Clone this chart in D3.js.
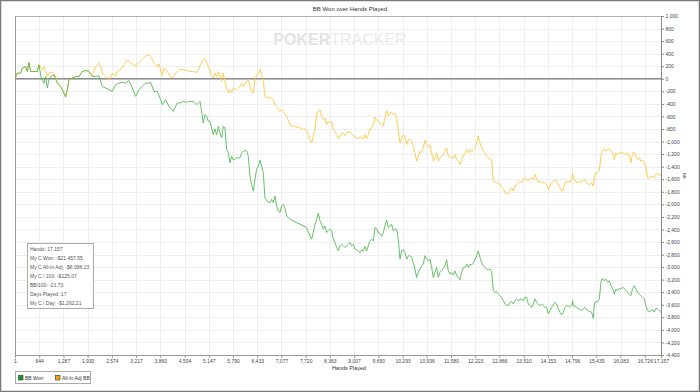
<!DOCTYPE html>
<html><head><meta charset="utf-8">
<script src="https://cdn.jsdelivr.net/npm/d3@7"></script>
<style>body{margin:0;background:#fff}svg{display:block;font-family:"Liberation Sans",Arial,sans-serif}</style>
</head><body><svg id="c" width="700" height="392"></svg>
<script>
const title = "BB Won over Hands Played";
const xLabel = "Hands Played";
const xTicks = [1,644,1287,1930,2574,3217,3860,4504,5147,5790,6433,7077,7720,8363,9007,9650,10293,10936,11580,12223,12866,13510,14153,14796,15439,16083,16726,17157];
const yTicks = [1000,800,600,400,200,0,-200,-400,-600,-800,-1000,-1200,-1400,-1600,-1800,-2000,-2200,-2400,-2600,-2800,-3000,-3200,-3400,-3600,-3800,-4000,-4200,-4400];
const seriesNames = ["BB Won","All-In Adj BB"];
const seriesColors = ["#56b956","#fdc742"];
const infoLines = ["Hands: 17,157","My C Won: -$21,457.55","My C All-In Adj: -$8,088.23","My C / 100: -$125.07","BB/100: -21.73","Days Played: 17","My C / Day: -$1,262.21"];

// [hand, BB]
const bbWon = [[1,0],[62,90],[150,90],[195,169],[283,196],[327,116],[372,259],[416,116],[505,116],[593,116],[637,222],[699,11],[770,-69],[814,37],[859,-148],[903,-16],[947,37],[1036,63],[1124,-69],[1213,-122],[1301,-227],[1345,-291],[1390,-175],[1434,-16],[1522,11],[1611,37],[1700,37],[1788,116],[1877,132],[1965,116],[2054,37],[2142,37],[2231,48],[2319,-122],[2408,-148],[2496,-175],[2585,-201],[2673,-95],[2762,-69],[2850,-58],[2939,-69],[3027,-26],[3116,-148],[3204,-280],[3293,-175],[3381,-122],[3470,-69],[3558,-69],[3603,-58],[3691,-201],[3780,-201],[3868,-333],[3913,-413],[4001,-333],[4090,-439],[4205,-518],[4311,-386],
[4382,-386],[4470,-360],[4559,-376],[4648,-360],[4736,-360],[4825,-413],[4913,-360],[4957,-518],[5002,-704],[5046,-571],[5090,-598],[5135,-677],[5179,-677],[5223,-783],[5267,-889],[5311,-799],[5356,-889],[5400,-757],[5444,-862],[5489,-942],[5533,-757],[5577,-783],[5621,-1127],[5666,-1180],[5710,-1338],[5754,-1233],[5798,-1296],[5887,-1259],[5975,-1259],[6020,-1180],[6064,-1153],[6108,-1143],[6152,-1153],[6197,-1233],[6241,-1550],[6285,-1682],[6330,-1788],[6374,-1603],[6418,-1444],[6462,-1391],[6507,-1296],[6551,-1391],[6595,-1497],[6639,-1894],[6684,-1947],[6772,-1973],[6816,-1920],[6861,-1973],[6905,-1867],[6949,-2026],[6993,-2105],[7038,-2132],[7082,-2026],[7126,-2000],[7171,-2053],[7215,-2185],[7303,-2238],[7392,-2264],[7480,-2291],[7569,-2317],[7657,-2344],[7746,-2370],[7790,-2439],[7834,-2502],[7879,-2555],[7923,-2450],[7967,-2317],[8012,-2238],[8056,-2142],[8100,-2264],[8144,-2317],[8189,-2396],[8233,-2344],[8277,-2450],[8322,-2423],[8366,-2396],[8410,-2423],[8455,-2555],[8499,-2608],[8543,-2687],[8587,-2740],[8632,-2661],[8676,-2634],[8720,-2661],
[8764,-2688],[8853,-2635],[8897,-2608],[8941,-2661],[8985,-2635],[9030,-2714],[9074,-2725],[9118,-2741],[9162,-2767],[9207,-2725],[9251,-2741],[9295,-2672],[9339,-2741],[9384,-2661],[9428,-2582],[9472,-2555],[9517,-2582],[9561,-2370],[9605,-2386],[9649,-2455],[9694,-2466],[9738,-2508],[9782,-2455],[9826,-2344],[9871,-2249],[9915,-2370],[9959,-2344],[10003,-2317],[10048,-2423],[10092,-2397],[10136,-2397],[10180,-2555],[10225,-2873],[10269,-2741],[10313,-2725],[10357,-2767],[10402,-2873],[10446,-2820],[10490,-2820],[10534,-2847],[10579,-2926],[10623,-3032],[10667,-3164],[10711,-3085],[10756,-3032],[10800,-2979],[10844,-2952],[10888,-2820],[10933,-2873],[10977,-2899],[11021,-2873],[11066,-3005],[11110,-3164],[11154,-3085],[11198,-3005],[11243,-3164],[11287,-3085],[11331,-3058],[11375,-3021],[11420,-2979],[11464,-2884],[11508,-3058],[11553,-3111],[11597,-3085],[11641,-3127],[11685,-3058],[11730,-3138],[11774,-3164],[11818,-3201],[11862,-3085],[11907,-3005],[11951,-3005],[11995,-2952],[12040,-3005],[12084,-2952],[12128,-2968],[12172,-2937],[12217,-2873],[12261,-2820],[12305,-2741],[12349,-2847],[12394,-2926],[12438,-2979],[12482,-3005],[12527,-3032],[12571,-3042],[12615,-3032],[12659,-3058],[12704,-3376],[12748,-3402],[12792,-3392],[12836,-3429],[12881,-3455],[12925,-3482],[12969,-3535],
[13013,-3587],[13057,-3603],[13102,-3614],[13146,-3571],[13190,-3550],[13234,-3587],[13279,-3534],[13323,-3508],[13367,-3534],[13411,-3518],[13456,-3508],[13500,-3534],[13544,-3481],[13588,-3481],[13633,-3587],[13677,-3614],[13721,-3640],[13765,-3587],[13810,-3508],[13854,-3561],[13898,-3587],[13942,-3614],[13987,-3587],[14031,-3614],[14075,-3640],[14119,-3640],[14164,-3746],[14208,-3693],[14252,-3640],[14296,-3603],[14341,-3561],[14385,-3587],[14429,-3666],[14473,-3719],[14518,-3762],[14562,-3719],[14606,-3640],[14650,-3614],[14695,-3614],[14739,-3640],[14783,-3614],[14810,-3534],[14827,-3614],[14872,-3624],[14916,-3640],[14960,-3656],[15004,-3666],[15049,-3693],[15093,-3666],[15137,-3640],[15181,-3677],[15226,-3693],[15270,-3709],[15314,-3719],[15358,-3815],[15385,-3587],[15420,-3550],[15474,-3550],[15518,-3508],[15562,-3243],[15598,-3180],[15651,-3217],[15695,-3190],[15739,-3243],[15784,-3217],[15828,-3296],[15872,-3338],[15916,-3429],[15961,-3349],[16005,-3376],[16049,-3338],[16093,-3349],[16138,-3323],[16182,-3338],[16226,-3376],[16270,-3402],[16315,-3429],[16359,-3455],[16403,-3338],[16447,-3296],[16492,-3349],[16536,-3402],[16580,-3429],[16624,-3455],[16669,-3481],[16713,-3508],[16757,-3614],[16801,-3693],[16846,-3709],[16890,-3693],[16934,-3677],[16978,-3719],[17023,-3656],[17067,-3666],[17111,-3693],[17157,-3719]];

const allInAdj = [[1,0],[62,90],[150,90],[195,169],[283,196],[327,116],[372,259],[416,116],[505,116],[593,116],[637,222],[726,143],[770,196],[814,116],[859,37],[903,90],[991,106],[1080,48],[1124,-42],[1213,-122],[1301,-227],[1345,-291],[1390,-175],[1434,-16],[1522,11],[1611,37],[1700,37],[1788,116],[1877,132],[1965,116],[2054,37],[2142,196],[2231,249],[2275,206],[2319,90],[2408,37],[2452,11],[2540,11],[2585,90],[2673,37],[2717,116],[2806,143],[2894,222],[2983,302],[3071,249],[3160,222],[3204,196],[3293,259],[3381,312],[3470,365],[3558,381],[3603,354],[3691,249],[3780,196],[3824,238],[3913,48],[3957,169],[4045,116],[4134,26],[4178,11],[4267,90],
[4382,153],[4470,143],[4559,132],[4648,116],[4736,116],[4825,101],[4869,143],[4931,238],[5002,302],[5046,328],[5090,259],[5135,196],[5179,143],[5223,48],[5267,11],[5311,90],[5356,37],[5400,116],[5444,37],[5489,-42],[5533,90],[5577,-42],[5621,-148],[5666,-227],[5710,-175],[5754,-217],[5798,-148],[5887,-175],[5975,-122],[6020,-69],[6064,-122],[6108,-69],[6152,-42],[6197,-16],[6241,-122],[6285,-201],[6330,-227],[6374,-16],[6418,63],[6462,90],[6507,153],[6551,63],[6595,-42],[6639,-280],[6684,-307],[6772,-291],[6861,-333],[6905,-413],[6949,-439],[6993,-492],[7038,-518],[7082,-492],[7126,-518],[7215,-598],[7303,-730],[7392,-757],[7480,-767],[7569,-783],[7657,-809],[7702,-799],[7746,-836],[7790,-889],[7834,-968],[7879,-1021],[7923,-915],[7967,-809],[8012,-571],[8056,-518],[8100,-492],[8144,-598],[8189,-651],[8233,-624],[8277,-730],[8322,-677],[8366,-704],[8410,-677],[8455,-809],[8499,-836],[8543,-889],[8587,-958],[8632,-915],[8676,-862],[8720,-862],
[8764,-905],[8853,-836],[8941,-873],[9030,-926],[9118,-958],[9162,-926],[9251,-958],[9295,-889],[9339,-958],[9384,-889],[9428,-799],[9472,-783],[9517,-730],[9561,-608],[9605,-651],[9649,-677],[9694,-704],[9738,-730],[9782,-746],[9826,-624],[9871,-503],[9915,-587],[9959,-545],[10003,-534],[10048,-571],[10092,-555],[10136,-624],[10180,-836],[10225,-1021],[10269,-942],[10313,-889],[10357,-926],[10402,-1048],[10446,-968],[10490,-968],[10534,-995],[10579,-1074],[10623,-1180],[10667,-1312],[10711,-1233],[10756,-1153],[10800,-1180],[10844,-1101],[10888,-979],[10933,-1048],[10977,-1085],[11021,-1048],[11066,-1180],[11110,-1312],[11154,-1259],[11198,-1180],[11243,-1312],[11287,-1259],[11331,-1233],[11375,-1206],[11420,-1153],[11464,-1101],[11508,-1233],[11553,-1259],[11597,-1233],[11641,-1275],[11685,-1206],[11730,-1286],[11774,-1312],[11818,-1365],[11862,-1286],[11907,-1233],[11951,-1180],[11995,-1127],[12040,-1180],[12084,-1127],[12128,-1169],[12172,-1127],[12217,-1101],[12261,-1021],[12305,-905],[12349,-1021],[12394,-1101],[12438,-1153],[12482,-1180],[12527,-1233],[12571,-1259],[12615,-1275],[12659,-1286],[12704,-1630],[12748,-1646],[12792,-1656],[12836,-1667],[12881,-1683],[12925,-1720],[12969,-1762],
[13013,-1815],[13057,-1841],[13102,-1825],[13146,-1772],[13190,-1735],[13234,-1788],[13279,-1709],[13323,-1683],[13367,-1646],[13411,-1630],[13456,-1656],[13500,-1603],[13544,-1577],[13588,-1603],[13633,-1630],[13677,-1593],[13721,-1577],[13765,-1603],[13810,-1524],[13854,-1603],[13898,-1646],[13942,-1630],[13987,-1656],[14031,-1646],[14075,-1656],[14119,-1683],[14164,-1762],[14208,-1709],[14252,-1656],[14296,-1630],[14341,-1614],[14385,-1630],[14429,-1683],[14473,-1735],[14518,-1788],[14562,-1772],[14606,-1656],[14650,-1646],[14695,-1630],[14739,-1656],[14783,-1603],[14810,-1508],[14827,-1603],[14872,-1614],[14916,-1656],[14960,-1646],[15004,-1630],[15049,-1656],[15093,-1630],[15137,-1603],[15181,-1656],[15226,-1683],[15270,-1683],[15314,-1656],[15358,-1709],[15385,-1603],[15420,-1497],[15474,-1497],[15518,-1471],[15562,-1233],[15598,-1153],[15651,-1116],[15695,-1153],[15739,-1127],[15784,-1116],[15828,-1153],[15872,-1180],[15916,-1286],[15961,-1180],[16005,-1206],[16049,-1180],[16093,-1180],[16138,-1180],[16182,-1196],[16226,-1206],[16270,-1180],[16315,-1233],[16359,-1339],[16403,-1180],[16447,-1169],[16492,-1233],[16536,-1286],[16580,-1259],[16624,-1312],[16669,-1296],[16713,-1339],[16757,-1418],[16801,-1577],[16846,-1577],[16890,-1561],[16934,-1550],[16978,-1577],[17023,-1524],[17067,-1508],[17111,-1540],[17157,-1524]];

const W = 700, H = 392;
const L = 15, R = 661, T = 16, B = 355;
const svg = d3.select("#c");
const fmt = v => d3.format(",")(v).replace("\u2212", "-");

svg.append("rect").attr("x",0.5).attr("y",0.5).attr("width",W-1).attr("height",H-1)
  .attr("fill","#fff").attr("stroke","#7a7a7a").attr("stroke-width",1.5);

const x = d3.scaleLinear().domain([xTicks[0], xTicks[xTicks.length-1]]).range([L, R]);
const y = d3.scaleLinear().domain([yTicks[yTicks.length-1], yTicks[0]]).range([B, T]);

// grid
const g = svg.append("g");
g.selectAll(".hg").data(yTicks).join("line")
  .attr("x1",L).attr("x2",R).attr("y1",d=>Math.round(y(d))+0.5).attr("y2",d=>Math.round(y(d))+0.5)
  .attr("stroke","#efefef").attr("stroke-width",1);
g.selectAll(".vg").data(xTicks).join("line")
  .attr("y1",T).attr("y2",B).attr("x1",d=>Math.round(x(d))+0.5).attr("x2",d=>Math.round(x(d))+0.5)
  .attr("stroke","#efefef").attr("stroke-width",1);

// watermark
const wm = svg.append("text").attr("x",340).attr("y",45).attr("text-anchor","middle")
  .attr("font-size",16).attr("fill","#e3e3e3");
wm.append("tspan").attr("font-weight","bold").text("POKER");
wm.append("tspan").attr("fill","#ebebeb").text("TRACKER");

// frame top
svg.append("line").attr("x1",L).attr("x2",R).attr("y1",T+0.5).attr("y2",T+0.5).attr("stroke","#b0b0b0");

// axes
const xAxis = d3.axisBottom(x).tickValues(xTicks).tickFormat(fmt).tickSize(3).tickPadding(1.5);
const gx = svg.append("g").attr("transform",`translate(0,${B})`).call(xAxis);
gx.select(".domain").attr("stroke","#999");
gx.selectAll(".tick line").attr("stroke","#999");
gx.selectAll("text").attr("font-size",5).attr("fill","#444").attr("font-family","Liberation Sans, Arial, sans-serif");

const yAxis = d3.axisRight(y).tickValues(yTicks).tickFormat(fmt).tickSize(3).tickPadding(1.5);
const gy = svg.append("g").attr("transform",`translate(${R},0)`).call(yAxis);
gy.select(".domain").attr("stroke","#888");
gy.selectAll(".tick line").attr("stroke","#888");
gy.selectAll("text").attr("font-size",5).attr("fill","#444").attr("font-family","Liberation Sans, Arial, sans-serif");

svg.append("line").attr("x1",L+0.5).attr("x2",L+0.5).attr("y1",T).attr("y2",B).attr("stroke","#999");

// zero line
svg.append("line").attr("x1",L).attr("x2",R).attr("y1",y(0)).attr("y2",y(0))
  .attr("stroke","#8c8c8c").attr("stroke-width",1.5);

// series
const line = d3.line().x(d=>x(d[0])).y(d=>y(d[1]));
svg.append("path").datum(allInAdj).attr("d",line).attr("fill","none")
  .attr("stroke",seriesColors[1]).attr("stroke-width",0.9).attr("stroke-linejoin","round");
svg.append("path").datum(bbWon).attr("d",line).attr("fill","none")
  .attr("stroke",seriesColors[0]).attr("stroke-width",0.9).attr("stroke-linejoin","round");

// title / labels
svg.append("text").attr("x",350).attr("y",11).attr("text-anchor","middle").attr("font-size",6).attr("fill","#333").text(title);
svg.append("text").attr("x",349).attr("y",370).attr("text-anchor","middle").attr("font-size",5.5).attr("fill","#333").text(xLabel);
svg.append("text").attr("transform","translate(683,176) rotate(90)").attr("text-anchor","middle")
  .attr("font-size",4).attr("fill","#333").text("BB");

// info box
svg.append("rect").attr("x",27.5).attr("y",243.5).attr("width",66).attr("height",65)
  .attr("fill","#fff").attr("stroke","#aaa");
svg.selectAll(".info").data(infoLines).join("text")
  .attr("x",30).attr("y",(d,i)=>250.5+i*9.1).attr("font-size",5).attr("fill","#555").text(d=>d);

// legend
svg.append("rect").attr("x",15.5).attr("y",371.5).attr("width",75).attr("height",12)
  .attr("fill","#fff").attr("stroke","#aaa");
const legFill = ["#1f9a1f","#f0a500"];
const legX = [18.5, 55.5];
seriesNames.forEach((n,i)=>{
  svg.append("rect").attr("x",legX[i]).attr("y",375.5).attr("width",4.5).attr("height",4.5)
    .attr("fill",legFill[i]).attr("stroke","#333").attr("stroke-width",0.6);
  svg.append("text").attr("x",legX[i]+6.5).attr("y",379.8).attr("font-size",5).attr("fill","#333").text(n);
});
</script></body></html>
